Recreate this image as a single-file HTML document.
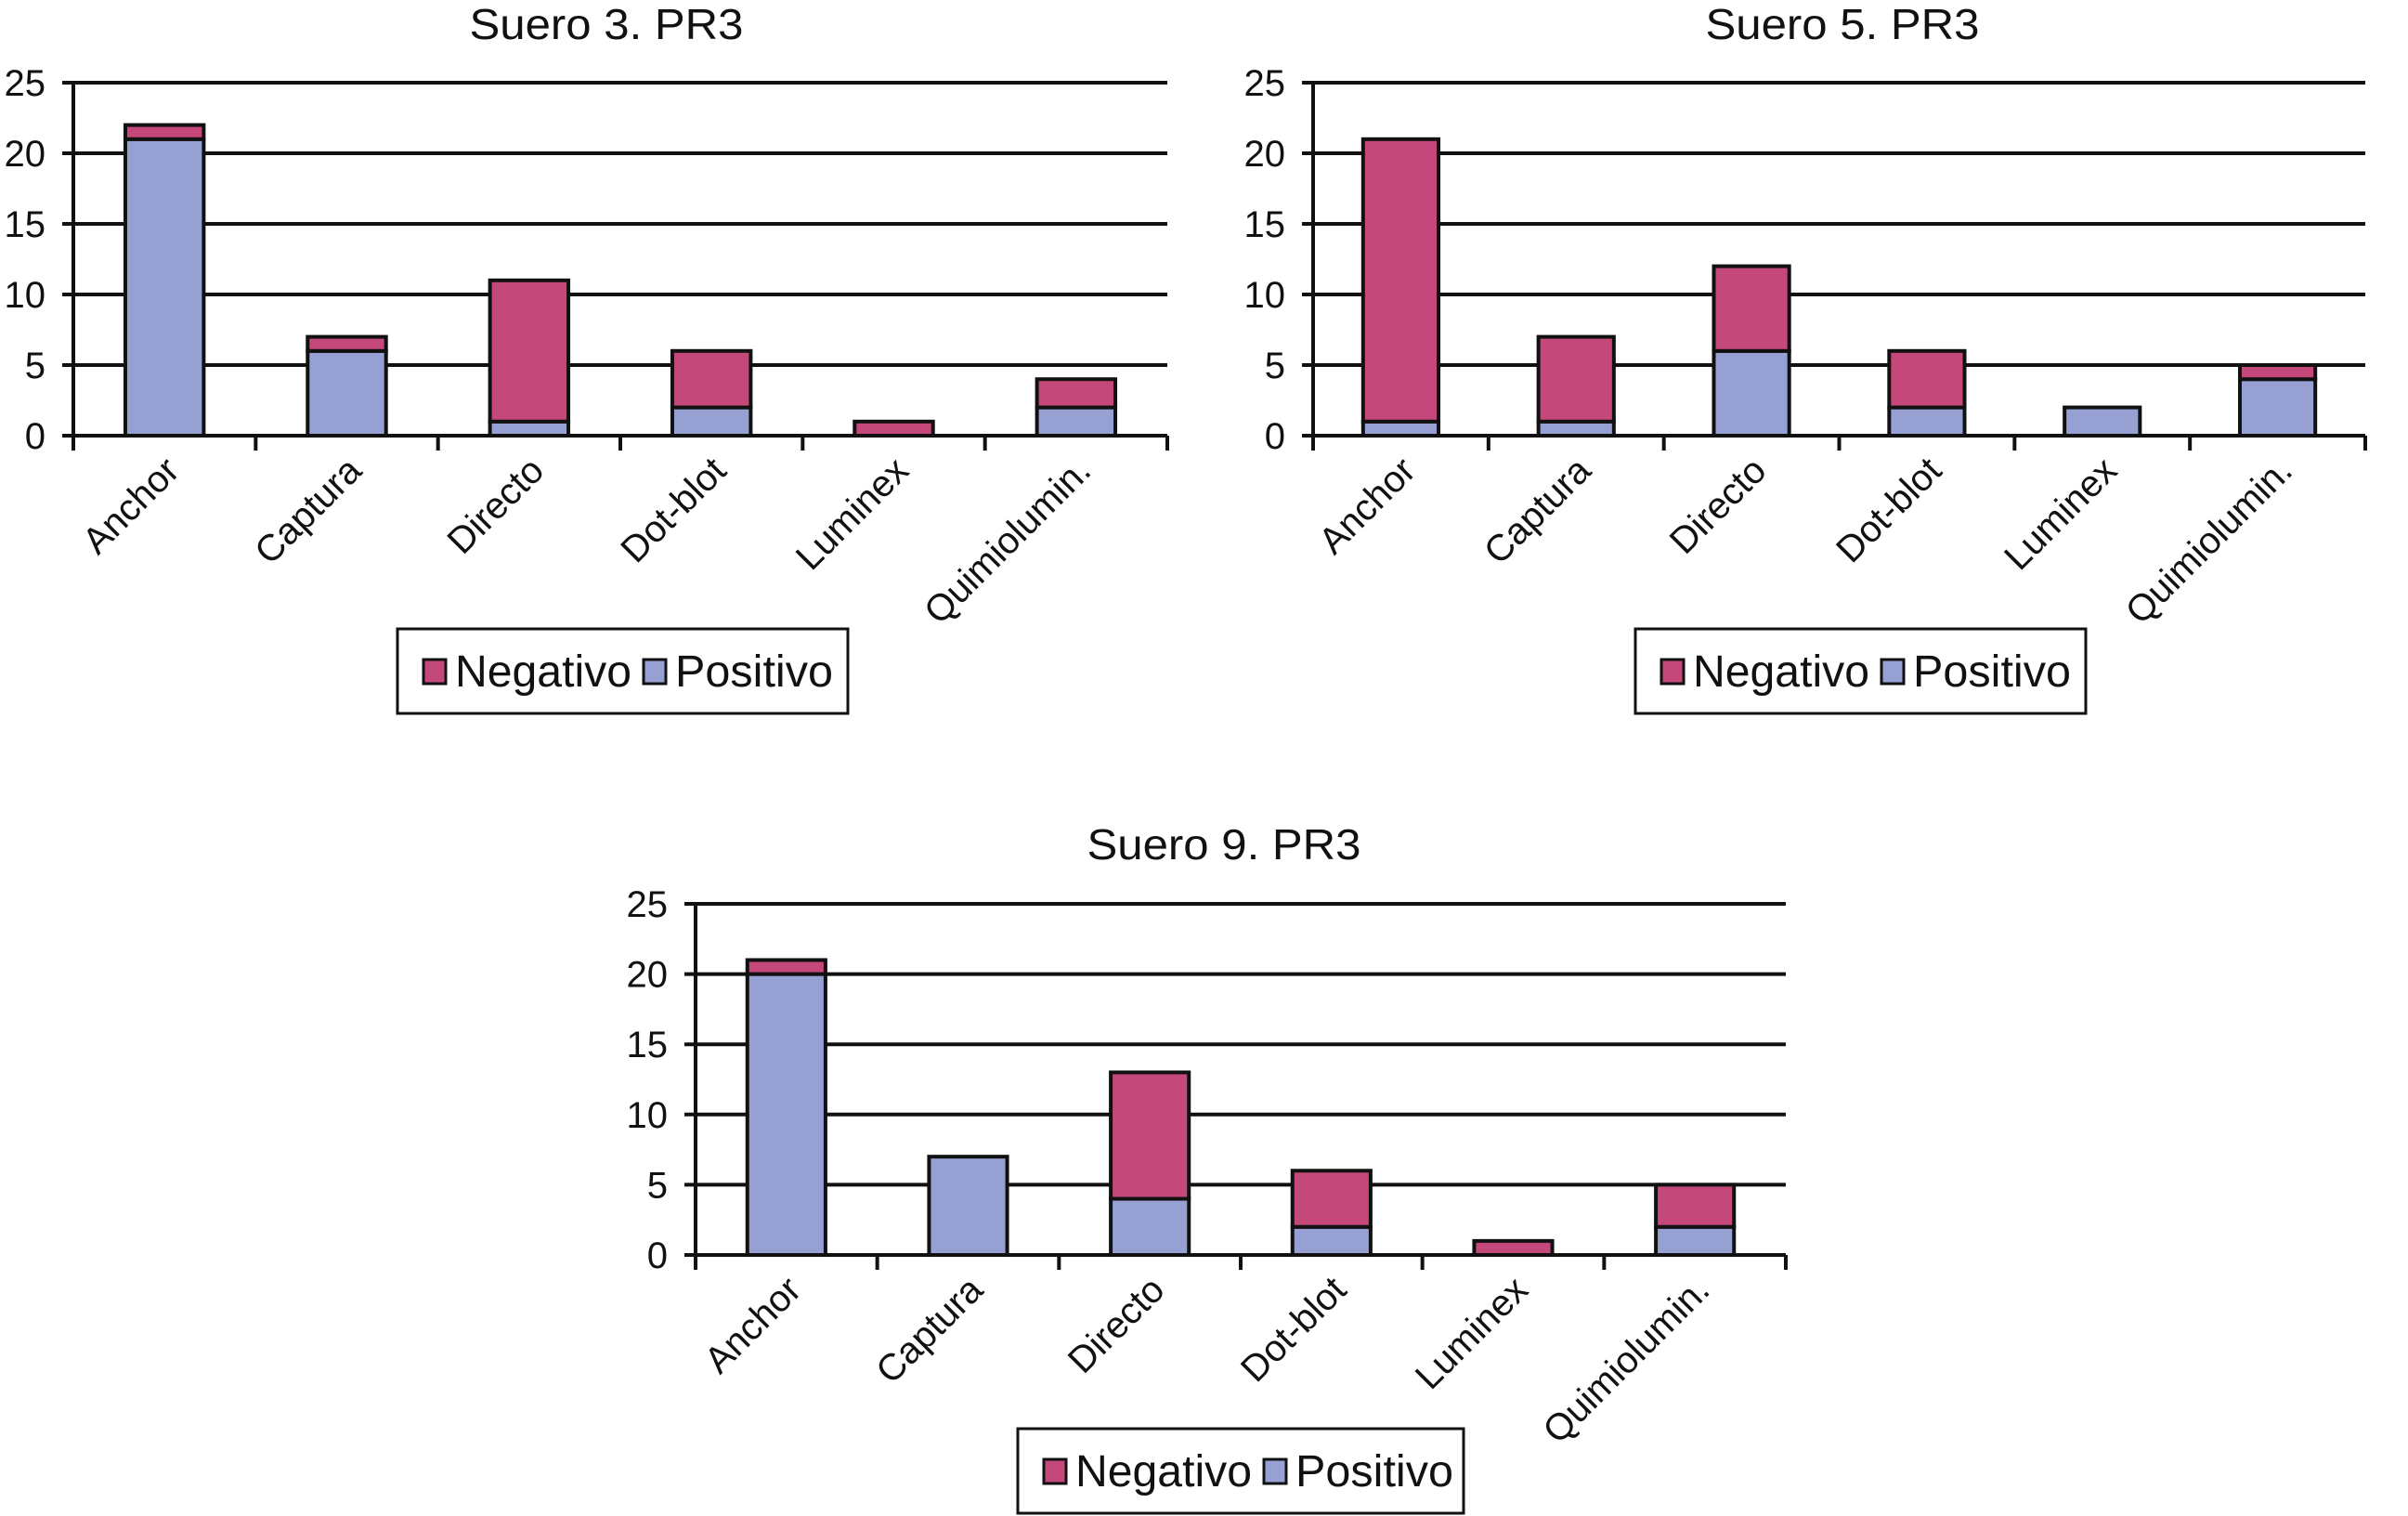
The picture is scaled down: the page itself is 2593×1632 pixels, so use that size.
<!DOCTYPE html>
<html><head><meta charset="utf-8"><style>
html,body{margin:0;padding:0;background:#fff;}
svg{display:block;font-family:"Liberation Sans",Arial,sans-serif;}
</style></head><body>
<svg id="c" width="2593" height="1632" viewBox="0 0 2593 1632" xmlns="http://www.w3.org/2000/svg"></svg>
<script>
const categories = ["Anchor","Captura","Directo","Dot-blot","Luminex","Quimiolumin."];
const yTicks = [0,5,10,15,20,25];
const s3Positivo = [21,6,1,2,0,2];
const s3Negativo = [1,1,10,4,1,2];
const s5Positivo = [1,1,6,2,2,4];
const s5Negativo = [20,6,6,4,0,1];
const s9Positivo = [20,7,4,2,0,2];
const s9Negativo = [1,0,9,4,1,3];
const titles = ["Suero 3. PR3","Suero 5. PR3","Suero 9. PR3"];
const NEG="#c5487a", POS="#96a0d2";
const svg=document.getElementById('c');
const NS="http://www.w3.org/2000/svg";
function mk(t,a,p){const e=document.createElementNS(NS,t);for(const k in a)e.setAttribute(k,a[k]);(p||svg).appendChild(e);return e;}
const panels=[
 {id:'suero-3',x0:79,x1:1257,y0:469,y25:89,tx:653,ty:42,pos:s3Positivo,neg:s3Negativo,lg:[428,677,485,91]},
 {id:'suero-5',x0:1414,x1:2547,y0:469,y25:89,tx:1984,ty:42,pos:s5Positivo,neg:s5Negativo,lg:[1761,677,485,91]},
 {id:'suero-9',x0:749,x1:1923,y0:1351,y25:973,tx:1318,ty:925,pos:s9Positivo,neg:s9Negativo,lg:[1096,1538,480,91]}
];
panels.forEach((p,pi)=>{
  const g=mk('g',{});
  
  
  const y=v=>p.y0+(p.y25-p.y0)*v/25;
  const cw=(p.x1-p.x0)/categories.length;
  const bw=cw*0.43;
  const t=mk('text',{x:p.tx,y:p.ty,'font-size':46,'text-anchor':'middle',fill:'#111',textLength:295,lengthAdjust:'spacingAndGlyphs'},g);
  t.textContent=titles[pi];
  
  
  yTicks.forEach(v=>{
    const l=mk('line',{x1:p.x0-12,x2:p.x1,y1:y(v),y2:y(v),stroke:'#111','stroke-width':4},g);
    
    
    const tl=mk('text',{x:p.x0-30,y:y(v)+14,'font-size':40,'text-anchor':'end',fill:'#111'},g);
    tl.textContent=v;
    
    
  });
  const ax=mk('line',{x1:p.x0,x2:p.x0,y1:p.y25,y2:p.y0+16,stroke:'#111','stroke-width':4},g);
  
  
  for(let i=0;i<=categories.length;i++){
    const tk=mk('line',{x1:p.x0+i*cw,x2:p.x0+i*cw,y1:p.y0,y2:p.y0+16,stroke:'#111','stroke-width':4},g);
    
    
  }
  categories.forEach((c,i)=>{
    const cx=p.x0+cw*(i+0.5);
    const bx=cx-bw/2;
    const r1=mk('rect',{x:bx,y:y(p.pos[i]),width:bw,height:y(0)-y(p.pos[i]),fill:POS,stroke:'#111','stroke-width':4},g);
    
    
    if(p.neg[i]>0){
      const r2=mk('rect',{x:bx,y:y(p.pos[i]+p.neg[i]),width:bw,height:y(p.pos[i])-y(p.pos[i]+p.neg[i]),fill:NEG,stroke:'#111','stroke-width':4},g);
      
      
    }
    const lx=cx+18, ly=p.y0+40;
    const tl=mk('text',{x:lx,y:ly,'font-size':40,'text-anchor':'end',fill:'#111',transform:`rotate(-45 ${lx} ${ly})`},g);
    tl.textContent=c;
    
    
  });
  const [lx,ly,lw,lh]=p.lg;
  const lg=mk('g',{},g);
  
  
  mk('rect',{x:lx,y:ly,width:lw,height:lh,fill:'#fff',stroke:'#111','stroke-width':3},lg);
  mk('rect',{x:lx+28,y:ly+33,width:24,height:26,fill:NEG,stroke:'#111','stroke-width':3},lg);
  const t1=mk('text',{x:lx+62,y:ly+62,'font-size':48,fill:'#111',textLength:190,lengthAdjust:'spacingAndGlyphs'},lg);
  t1.textContent='Negativo';
  
  
  mk('rect',{x:lx+265,y:ly+33,width:24,height:26,fill:POS,stroke:'#111','stroke-width':3},lg);
  const t2=mk('text',{x:lx+299,y:ly+62,'font-size':48,fill:'#111',textLength:170,lengthAdjust:'spacingAndGlyphs'},lg);
  t2.textContent='Positivo';
  
  
});
</script>
</body></html>
